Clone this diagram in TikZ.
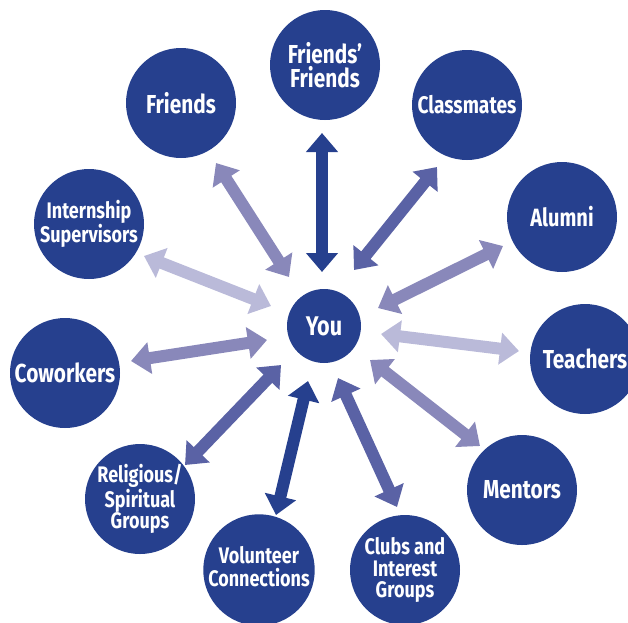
\documentclass[tikz,border=0pt]{standalone}
\usepackage{fontspec}
\newfontfamily\labfont[FakeStretch=0.8]{Fira Sans}
\usetikzlibrary{arrows.meta}
\definecolor{circblue}{HTML}{26408E}
\definecolor{arrdark}{HTML}{26408E}
\definecolor{arrmed}{HTML}{5A62A5}
\definecolor{arrlight}{HTML}{8988BA}
\definecolor{arrpale}{HTML}{BABAD9}
\tikzset{
  bubble/.style={circle, fill=circblue, minimum size=110pt, inner sep=0pt,
    text=white, align=center, font=\labfont\bfseries\fontsize{26}{24.5}\selectfont},
  yoububble/.style={bubble, minimum size=74pt, font=\labfont\bfseries\fontsize{27}{27}\selectfont},
  smalltext/.style={font=\labfont\bfseries\fontsize{22.5}{21.5}\selectfont},
  medtext/.style={font=\labfont\bfseries\fontsize{24}{24}\selectfont},
  arr/.style={line width=12pt,
    {Triangle[length=19pt,width=31pt]}-{Triangle[length=19pt,width=31pt]}},
}
\begin{document}
\begin{tikzpicture}[x=1pt,y=-1pt]
\useasboundingbox (0,0) rectangle (628,622);
% nodes
\node[yoububble] (you) at (324,326) {You};
\node[bubble] (ff) at (325,65) {Friends’\\Friends};
\node[bubble] (friends) at (181,103) {Friends};
\node[bubble, medtext] (class) at (467,105) {Classmates};
\node[bubble, font=\labfont\bfseries\fontsize{25}{25}\selectfont] (alumni) at (562,217) {Alumni};
\node[bubble, smalltext] (intern) at (89,224) {Internship\\Supervisors};
\node[bubble] (teach) at (585,359) {Teachers};
\node[bubble] (cowork) at (65,373) {Coworkers};
\node[bubble] (mentor) at (522,490) {Mentors};
\node[bubble, smalltext] (relig) at (140,499) {Religious/\\Spiritual\\Groups};
\node[bubble, font=\labfont\bfseries\fontsize{22.5}{22}\selectfont] (volun) at (259,570) {\raisebox{4pt}{\begin{tabular}{@{}c@{}}Volunteer\\[-2pt]Connections\end{tabular}}};
\node[bubble, smalltext] (clubs) at (405,570) {Clubs and\\Interest\\Groups};
% arrow end points
\coordinate (ffA) at (322,133);   \coordinate (ffB) at (322,272);
\coordinate (frA) at (216,163);   \coordinate (frB) at (289,277);
\coordinate (clA) at (437,167);   \coordinate (clB) at (354,270);
\coordinate (alA) at (503,246);   \coordinate (alB) at (378,308);
\coordinate (inA) at (144,256);   \coordinate (inB) at (271,306);
\coordinate (teA) at (519,351);   \coordinate (teB) at (381,334);
\coordinate (coA) at (131,361);   \coordinate (coB) at (267,340);
\coordinate (meA) at (480,446);   \coordinate (meB) at (370,360);
\coordinate (reA) at (185,465);   \coordinate (reB) at (281,365);
\coordinate (voA) at (276,515);   \coordinate (voB) at (308,381);
\coordinate (cuA) at (397,507);   \coordinate (cuB) at (338,378);
% arrows
\draw[arr, arrdark]  (ffB) -- (ffA);
\draw[arr, arrlight] (frB) -- (frA);
\draw[arr, arrmed]   (clB) -- (clA);
\draw[arr, arrlight] (alB) -- (alA);
\draw[arr, arrpale]  (inB) -- (inA);
\draw[arr, arrpale]  (teB) -- (teA);
\draw[arr, arrlight] (coB) -- (coA);
\draw[arr, arrlight] (meB) -- (meA);
\draw[arr, arrmed]   (reB) -- (reA);
\draw[arr, arrdark]  (voB) -- (voA);
\draw[arr, arrmed]   (cuB) -- (cuA);
\end{tikzpicture}
\end{document}
